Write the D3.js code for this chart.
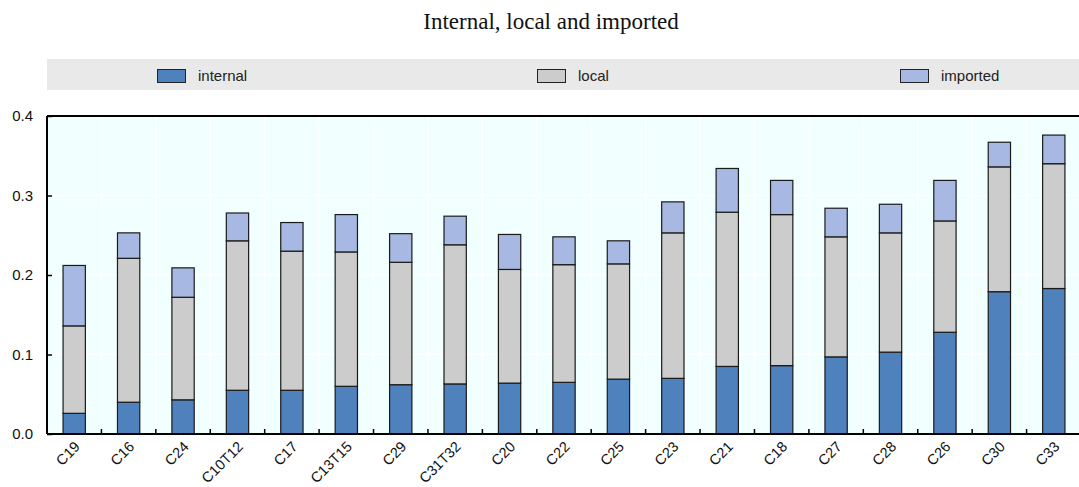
<!DOCTYPE html>
<html>
<head>
<meta charset="utf-8">
<script src="https://cdn.jsdelivr.net/npm/d3@7"></script>
<style>
  body { margin: 0; background: #fff; }
  text { font-family: "Liberation Sans", Arial, sans-serif; }
</style>
</head>
<body>
<div id="chart"></div>
<script>
// Categories in the order shown
var categories = ["C19", "C16", "C24", "C10T12", "C17", "C13T15", "C29", "C31T32", "C20",
  "C22", "C25", "C23", "C21", "C18", "C27", "C28", "C26", "C30", "C33"];

// Segment values (stacked)
var internal = [0.026, 0.040, 0.043, 0.055, 0.055, 0.060, 0.062, 0.063, 0.064,
  0.065, 0.069, 0.070, 0.085, 0.086, 0.097, 0.103, 0.128, 0.179, 0.183];
var local = [0.110, 0.181, 0.129, 0.188, 0.175, 0.169, 0.154, 0.175, 0.143,
  0.148, 0.145, 0.183, 0.194, 0.190, 0.151, 0.150, 0.140, 0.157, 0.157];
var imported = [0.076, 0.032, 0.037, 0.035, 0.036, 0.047, 0.036, 0.036, 0.044,
  0.035, 0.029, 0.039, 0.055, 0.043, 0.036, 0.036, 0.051, 0.031, 0.036];

var series = ["internal", "local", "imported"];
var colors = {internal: "#4f81bd", local: "#cccccc", imported: "#a7b9e3"};
var yTicks = [0, 0.1, 0.2, 0.3, 0.4];

var width = 1079, height = 487;
// plot area bounds
var pLeft = 47, pRight = 1081, pTop = 116, pBottom = 434;

var svg = d3.select("#chart").append("svg")
  .attr("width", width)
  .attr("height", height);

// Title
svg.append("text")
  .attr("x", 551)
  .attr("y", 29)
  .attr("text-anchor", "middle")
  .style("font-family", "'Liberation Serif', 'Times New Roman', serif")
  .style("font-size", "23px")
  .attr("fill", "#111")
  .text("Internal, local and imported");

// Legend band
svg.append("rect")
  .attr("x", pLeft)
  .attr("y", 59)
  .attr("width", width - pLeft)
  .attr("height", 31)
  .attr("fill", "#e9e9e9");

var legendX = [157, 537, 900];
series.forEach(function(s, i) {
  svg.append("rect")
    .attr("x", legendX[i] + 0.5)
    .attr("y", 69.5)
    .attr("width", 28)
    .attr("height", 13)
    .attr("fill", colors[s])
    .attr("stroke", "#222")
    .attr("stroke-width", 1);
  svg.append("text")
    .attr("x", legendX[i] + 41)
    .attr("y", 81)
    .style("font-size", "15px")
    .attr("fill", "#222")
    .text(s);
});

var x = d3.scaleBand()
  .domain(categories)
  .range([pLeft, pRight])
  .paddingInner(0.59)
  .paddingOuter(0.295);

var y = d3.scaleLinear()
  .domain([0, 0.4])
  .range([pBottom, pTop]);

// Plot background
svg.append("rect")
  .attr("x", pLeft)
  .attr("y", pTop)
  .attr("width", width - pLeft)
  .attr("height", pBottom - pTop)
  .attr("fill", "#f2ffff");

// Grid lines
var step = x.step();
var bounds = d3.range(1, categories.length).map(function(i) { return pLeft + i * step; });

svg.append("g").selectAll("line")
  .data(bounds)
  .enter().append("line")
  .attr("x1", d => d).attr("x2", d => d)
  .attr("y1", pTop).attr("y2", pBottom)
  .attr("stroke", "#ffffff")
  .attr("stroke-width", 1.5);

svg.append("g").selectAll("line")
  .data(yTicks.slice(1, -1))
  .enter().append("line")
  .attr("x1", pLeft).attr("x2", width)
  .attr("y1", d => y(d)).attr("y2", d => y(d))
  .attr("stroke", "#ffffff")
  .attr("stroke-width", 1.5);

// Stacked bars
var rows = categories.map(function(c, i) {
  return {cat: c, internal: internal[i], local: local[i], imported: imported[i]};
});
var stack = d3.stack().keys(series)(rows);

svg.append("g").selectAll("g")
  .data(stack)
  .enter().append("g")
  .attr("fill", d => colors[d.key])
  .selectAll("rect")
  .data(d => d)
  .enter().append("rect")
  .attr("x", d => x(d.data.cat))
  .attr("width", x.bandwidth())
  .attr("y", d => y(d[1]))
  .attr("height", d => y(d[0]) - y(d[1]))
  .attr("stroke", "#1a1a1a")
  .attr("stroke-width", 1.2);

// Frame lines
svg.append("line")
  .attr("x1", pLeft).attr("x2", width)
  .attr("y1", pTop).attr("y2", pTop)
  .attr("stroke", "#000").attr("stroke-width", 2);
svg.append("line")
  .attr("x1", pLeft).attr("x2", pLeft)
  .attr("y1", pTop).attr("y2", pBottom)
  .attr("stroke", "#000").attr("stroke-width", 2);

// Y axis
var yAxis = svg.append("g")
  .attr("transform", "translate(" + pLeft + ",0)")
  .call(d3.axisRight(y).tickValues(yTicks).tickSize(5).tickFormat(d3.format(".1f")));
yAxis.select(".domain").remove();
yAxis.selectAll("line").attr("stroke", "#000").attr("stroke-width", 1.5);
yAxis.selectAll("text")
  .attr("x", -14)
  .attr("text-anchor", "end")
  .style("font-size", "15px")
  .attr("fill", "#111");

// X axis
svg.append("line")
  .attr("x1", pLeft).attr("x2", width)
  .attr("y1", pBottom).attr("y2", pBottom)
  .attr("stroke", "#000").attr("stroke-width", 2);

svg.append("g").selectAll("line")
  .data(bounds)
  .enter().append("line")
  .attr("x1", d => d).attr("x2", d => d)
  .attr("y1", pBottom).attr("y2", pBottom - 5)
  .attr("stroke", "#000")
  .attr("stroke-width", 1.5);

svg.append("g").selectAll("text")
  .data(categories)
  .enter().append("text")
  .attr("transform", d => "translate(" + (x(d) + x.bandwidth() / 2 + 3) + "," + (pBottom + 10) + ") rotate(-45)")
  .attr("text-anchor", "end")
  .attr("dy", "0.35em")
  .style("font-size", "14.5px")
  .attr("fill", "#111")
  .text(d => d);
</script>
</body>
</html>
